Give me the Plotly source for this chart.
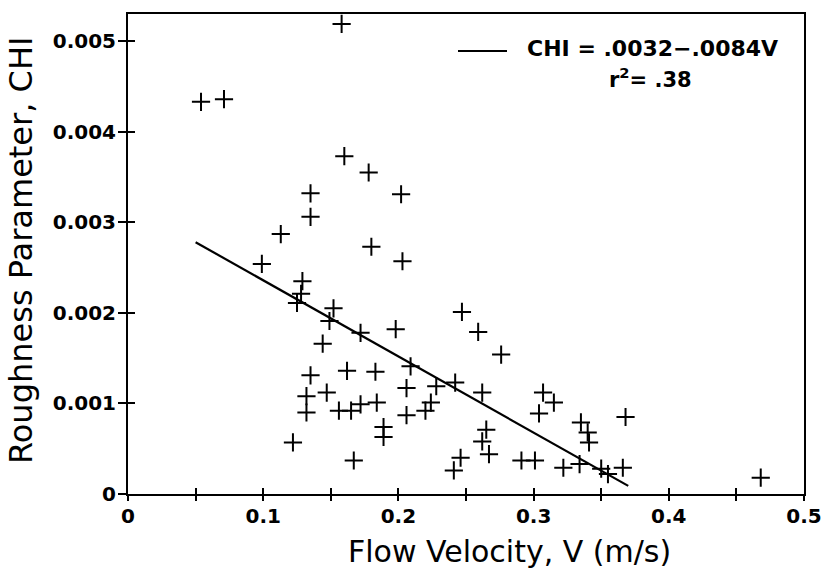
import plotly.graph_objects as go

# Measured data (Flow velocity V in m/s, roughness parameter CHI)
velocity = [0.158, 0.054, 0.071, 0.160, 0.178, 0.135, 0.135, 0.113, 0.180, 0.202,
            0.203, 0.099, 0.129, 0.128, 0.125, 0.152, 0.247, 0.149, 0.172, 0.198,
            0.144, 0.209, 0.135, 0.162, 0.183, 0.242, 0.228, 0.206, 0.132, 0.147,
            0.172, 0.184, 0.224, 0.220, 0.132, 0.156, 0.165, 0.206, 0.189, 0.189,
            0.122, 0.167, 0.246, 0.241, 0.259, 0.276, 0.262, 0.307, 0.315, 0.304,
            0.265, 0.262, 0.267, 0.335, 0.340, 0.341, 0.368, 0.291, 0.301, 0.322,
            0.334, 0.350, 0.355, 0.366, 0.468]
chi = [0.00519, 0.00433, 0.00436, 0.00373, 0.00355, 0.00332, 0.00306, 0.00287, 0.00273, 0.00331,
       0.00257, 0.00254, 0.00235, 0.00221, 0.00211, 0.00205, 0.00201, 0.00191, 0.00178, 0.00182,
       0.00166, 0.00141, 0.00131, 0.00136, 0.00135, 0.00123, 0.00119, 0.00117, 0.00108, 0.00112,
       0.00099, 0.00101, 0.00101, 0.00092, 0.00090, 0.00092, 0.00092, 0.00087, 0.00074, 0.00063,
       0.00057, 0.00037, 0.00040, 0.00026, 0.00179, 0.00154, 0.00112, 0.00112, 0.00101, 0.00089,
       0.00071, 0.00058, 0.00044, 0.00079, 0.00068, 0.00057, 0.00085, 0.00037, 0.00037, 0.00029,
       0.00033, 0.00028, 0.00022, 0.00029, 0.00018]

# Fitted regression line endpoints (CHI = .0032 - .0084V)
fit_v = [0.05, 0.37]
fit_chi = [0.00278, 0.00009]

x_tickvals = [0, 0.1, 0.2, 0.3, 0.4, 0.5]
x_ticktext = ["0", "0.1", "0.2", "0.3", "0.4", "0.5"]
x_minor_tickvals = [0.05, 0.15, 0.25, 0.35, 0.45]
y_tickvals = [0, 0.001, 0.002, 0.003, 0.004, 0.005]
y_ticktext = ["0", "0.001", "0.002", "0.003", "0.004", "0.005"]

legend_text = "CHI = .0032\u2212.0084V"
r2_text = "r<sup>2</sup>= .38"

FONT = "DejaVu Sans"

fig = go.Figure()
fig.add_trace(go.Scatter(
    x=fit_v, y=fit_chi, mode="lines",
    line=dict(color="black", width=2.2), showlegend=False, hoverinfo="skip"))
fig.add_trace(go.Scatter(
    x=velocity, y=chi, mode="markers",
    marker=dict(symbol="cross-thin", size=13, color="black",
                line=dict(color="black", width=2)),
    showlegend=False))
# dummy trace to create overlay axes (outside tick marks)
fig.add_trace(go.Scatter(x=[None], y=[None], xaxis="x2", yaxis="y2",
                         showlegend=False, hoverinfo="skip"))

fig.update_layout(
    width=828, height=570, autosize=False,
    margin=dict(l=128, r=24, t=14, b=76, autoexpand=False),
    paper_bgcolor="white", plot_bgcolor="white",
    font=dict(family=FONT, color="black"),
    xaxis=dict(range=[0, 0.5], tickvals=x_tickvals, ticktext=x_ticktext,
               showgrid=False, zeroline=False, showline=True, linewidth=2,
               linecolor="black", mirror=True, automargin=False,
               ticks="inside", ticklen=6, tickwidth=1.5, tickcolor="black",
               minor=dict(tickvals=x_minor_tickvals, ticks="inside",
                          ticklen=6, tickwidth=1.5, tickcolor="black"),
               tickfont=dict(family=FONT, size=20, weight="bold"),
               ticklabelstandoff=3),
    yaxis=dict(range=[0, 0.0053], tickvals=y_tickvals, ticktext=y_ticktext,
               showgrid=False, zeroline=False, showline=True, linewidth=2,
               linecolor="black", mirror=True, automargin=False,
               ticks="inside", ticklen=7, tickwidth=1.5, tickcolor="black",
               tickfont=dict(family=FONT, size=20, weight="bold"),
               ticklabelstandoff=6),
    xaxis2=dict(range=[0, 0.5], overlaying="x", anchor="y2", side="bottom",
                tickvals=x_tickvals, showticklabels=False, showgrid=False,
                zeroline=False, showline=False,
                ticks="outside", ticklen=6, tickwidth=1.5, tickcolor="black",
                minor=dict(tickvals=x_minor_tickvals, ticks="outside",
                           ticklen=6, tickwidth=1.5, tickcolor="black")),
    yaxis2=dict(range=[0, 0.0053], overlaying="y", anchor="x2", side="left",
                tickvals=y_tickvals, showticklabels=False, showgrid=False,
                zeroline=False, showline=False,
                ticks="outside", ticklen=9, tickwidth=1.5, tickcolor="black"),
    showlegend=False,
)

# Axis titles
fig.add_annotation(text="Flow Velocity, V (m/s)", xref="paper", yref="paper",
                   x=(509 - 128) / 676, y=-(551 - 494) / 480,
                   xanchor="center", yanchor="middle", showarrow=False,
                   font=dict(family=FONT, size=30, color="black"))
fig.add_annotation(text="Roughness Parameter, CHI", xref="paper", yref="paper",
                   x=-(128 - 21) / 676, y=(494 - 251) / 480, textangle=-90,
                   xanchor="center", yanchor="middle", showarrow=False,
                   font=dict(family=FONT, size=32, color="black"))

# Legend: line sample + equation text
fig.add_shape(type="line", xref="paper", yref="paper",
              x0=(458 - 128) / 676, x1=(507 - 128) / 676,
              y0=(494 - 51) / 480, y1=(494 - 51) / 480,
              line=dict(color="black", width=2))
fig.add_annotation(text=legend_text, xref="paper", yref="paper",
                   x=(652 - 128) / 676, y=(494 - 49) / 480,
                   xanchor="center", yanchor="middle", showarrow=False,
                   font=dict(family=FONT, size=22, color="black", weight="bold"))
fig.add_annotation(text=r2_text, xref="paper", yref="paper",
                   x=(650 - 128) / 676, y=(494 - 78) / 480,
                   xanchor="center", yanchor="middle", showarrow=False,
                   font=dict(family=FONT, size=21, color="black", weight="bold"))

fig.write_html("out.html",
               config={"displayModeBar": False},
               post_script="document.body.style.margin='0px';"
                           "document.body.style.overflow='hidden';")
